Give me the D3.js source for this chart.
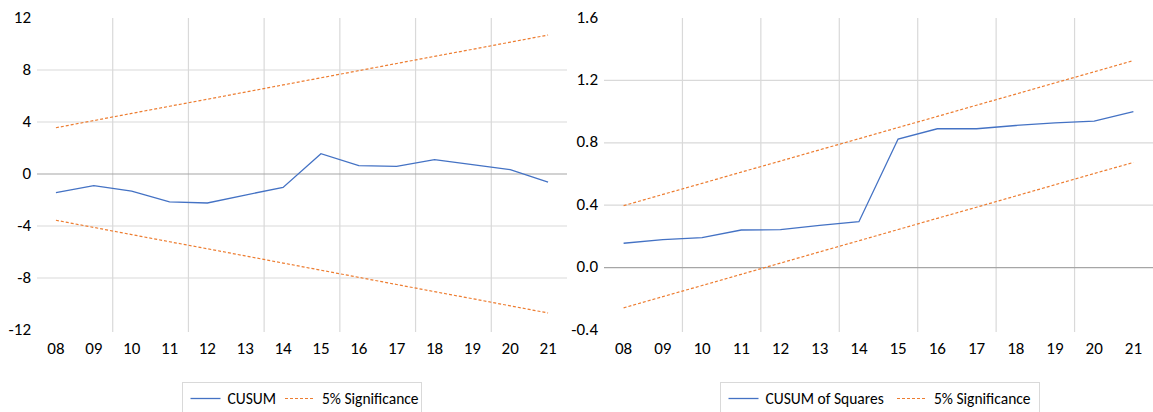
<!DOCTYPE html>
<html>
<head>
<meta charset="utf-8">
<script src="https://cdn.jsdelivr.net/npm/d3@7"></script>
<style>
  html, body { margin: 0; padding: 0; background: #fff; }
  svg { display: block; font-family: Calibri, Carlito, Lato, sans-serif; }
</style>
</head>
<body>
<svg id="chart" width="1153" height="412"></svg>
<script>
// Years (two-digit labels) shared by both panels
const years = ["08","09","10","11","12","13","14","15","16","17","18","19","20","21"];

// CUSUM statistic and its 5% significance bounds
const cusum      = [-1.44, -0.90, -1.31, -2.15, -2.23, -1.62, -1.03, 1.56, 0.64, 0.59, 1.10, 0.72, 0.33, -0.62];
const cusumUpper = [3.56, 4.11, 4.66, 5.21, 5.75, 6.30, 6.85, 7.40, 7.95, 8.50, 9.05, 9.59, 10.14, 10.69];
const cusumLower = [-3.56, -4.11, -4.66, -5.21, -5.75, -6.30, -6.85, -7.40, -7.95, -8.50, -9.05, -9.59, -10.14, -10.69];
const cusumTicks = ["-12", "-8", "-4", "0", "4", "8", "12"];

// CUSUM of squares and its 5% significance bounds
const cusumSq      = [0.156, 0.179, 0.192, 0.241, 0.243, 0.271, 0.294, 0.824, 0.890, 0.890, 0.911, 0.928, 0.939, 1.000];
const cusumSqUpper = [0.397, 0.469, 0.540, 0.612, 0.683, 0.755, 0.826, 0.898, 0.969, 1.041, 1.112, 1.184, 1.255, 1.327];
const cusumSqLower = [-0.258, -0.186, -0.115, -0.043, 0.029, 0.101, 0.172, 0.244, 0.316, 0.387, 0.459, 0.531, 0.603, 0.674];
const cusumSqTicks = ["-0.4", "0.0", "0.4", "0.8", "1.2", "1.6"];

const BLUE = "#4472C4", ORANGE = "#ED7D31";
const svg = d3.select("#chart");

function panel(opt) {
  const g = svg.append("g");
  const x = d3.scaleBand().domain(years).range([opt.left, opt.right]).paddingInner(0).paddingOuter(0);
  const y = d3.scaleLinear().domain(opt.domain).range([330, 18]);
  const cx = d => x(d) + x.bandwidth() / 2;
  const ticks = opt.ticks.map(t => ({ label: t, value: +t }));

  // vertical gridlines every second category boundary
  g.append("g").selectAll("line")
    .data(years.filter((d, i) => i > 0 && i % 2 === 0))
    .join("line")
    .attr("x1", d => x(d)).attr("x2", d => x(d))
    .attr("y1", 18).attr("y2", 332)
    .attr("stroke", "#d9d9d9").attr("stroke-width", 1.2);

  // horizontal gridlines (interior ticks), zero line darker
  const inner = ticks.filter(t => t.value !== opt.domain[0] && t.value !== opt.domain[1]);
  g.append("g").selectAll("line")
    .data(inner)
    .join("line")
    .attr("x1", opt.left).attr("x2", opt.right)
    .attr("y1", d => y(d.value)).attr("y2", d => y(d.value))
    .attr("stroke", d => d.value === 0 ? "#a6a6a6" : "#d9d9d9")
    .attr("stroke-width", 1.2);

  // y tick labels
  g.append("g").selectAll("text")
    .data(ticks)
    .join("text")
    .attr("x", opt.labelX)
    .attr("y", d => y(d.value) + 4.5)
    .attr("text-anchor", "end")
    .attr("font-size", 17)
    .attr("fill", "#000")
    .text(d => d.label);

  // category labels
  g.append("g").selectAll("text")
    .data(years)
    .join("text")
    .attr("x", cx)
    .attr("y", 353.5)
    .attr("text-anchor", "middle")
    .attr("font-size", 17)
    .attr("fill", "#000")
    .text(d => d);

  const line = d3.line().x((d, i) => cx(years[i])).y(d => y(d));

  [opt.upper, opt.lower].forEach(s => {
    g.append("path").datum(s)
      .attr("d", line)
      .attr("fill", "none")
      .attr("stroke", ORANGE)
      .attr("stroke-width", 1.2)
      .attr("stroke-dasharray", "3,2");
  });
  g.append("path").datum(opt.stat)
    .attr("d", line)
    .attr("fill", "none")
    .attr("stroke", BLUE)
    .attr("stroke-width", 1.3);

  // legend
  const L = opt.legend;
  const lg = g.append("g");
  lg.append("rect")
    .attr("x", L.x).attr("y", 382.5)
    .attr("width", L.w).attr("height", 40)
    .attr("fill", "#fff").attr("stroke", "#d9d9d9");
  lg.append("line")
    .attr("x1", L.x + 8).attr("x2", L.x + 38)
    .attr("y1", 398.5).attr("y2", 398.5)
    .attr("stroke", BLUE).attr("stroke-width", 1.3);
  lg.append("text")
    .attr("x", L.x + 45).attr("y", 404)
    .attr("font-size", 15.5).attr("fill", "#000")
    .text(opt.name);
  lg.append("line")
    .attr("x1", L.sigX).attr("x2", L.sigX + 30)
    .attr("y1", 398.5).attr("y2", 398.5)
    .attr("stroke", ORANGE).attr("stroke-width", 1.2)
    .attr("stroke-dasharray", "3,2");
  lg.append("text")
    .attr("x", L.sigX + 37).attr("y", 404)
    .attr("font-size", 15.5).attr("fill", "#000")
    .text("5% Significance");
}

panel({
  left: 37, right: 567, domain: [-12, 12], ticks: cusumTicks, labelX: 31,
  stat: cusum, upper: cusumUpper, lower: cusumLower, name: "CUSUM",
  legend: { x: 182.5, w: 239, sigX: 285 }
});

panel({
  left: 604, right: 1153, domain: [-0.4, 1.6], ticks: cusumSqTicks, labelX: 598,
  stat: cusumSq, upper: cusumSqUpper, lower: cusumSqLower, name: "CUSUM of Squares",
  legend: { x: 720.5, w: 319, sigX: 897 }
});
</script>
</body>
</html>
